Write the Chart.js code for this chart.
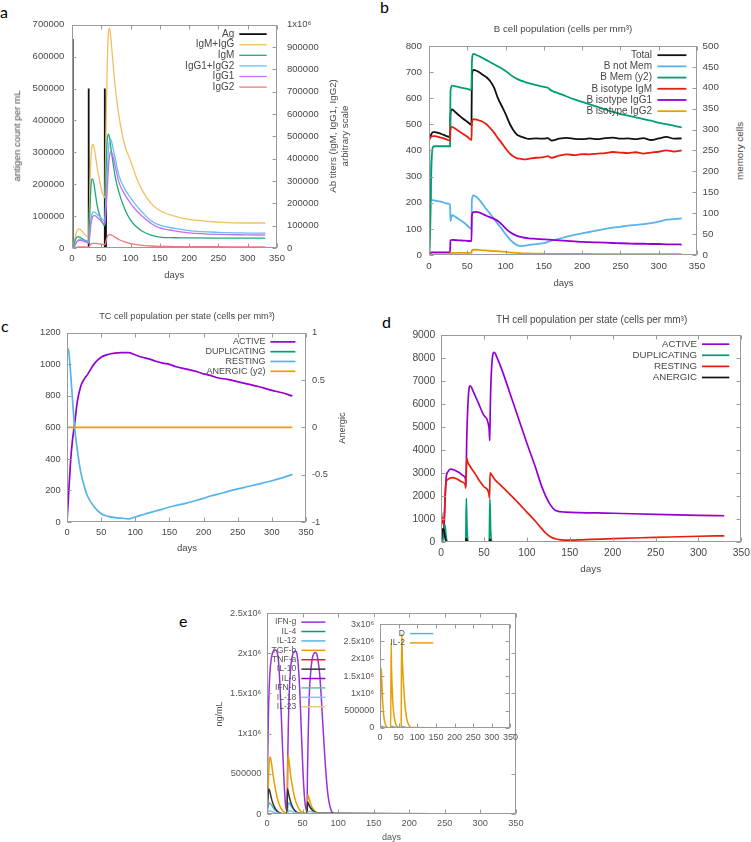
<!DOCTYPE html>
<html><head><meta charset="utf-8">
<script src="https://cdn.jsdelivr.net/npm/chart.js@4.4.1/dist/chart.umd.min.js"></script>
<style>
html,body{margin:0;padding:0;background:#fff;}
body{width:751px;height:842px;position:relative;overflow:hidden;font-family:"Liberation Sans",Arial,sans-serif;}
canvas{position:absolute;}
.t{position:absolute;color:#474747;white-space:nowrap;line-height:1;transform:translate(-50%,-50%);z-index:5;}
.r{transform:translate(-50%,-50%) rotate(-90deg);text-align:center;}
.p{position:absolute;font-family:Lato,"Open Sans",sans-serif;font-size:16px;line-height:1;color:#000;z-index:5;}
</style></head><body>
<div class="p" style="left:0px;top:4px">a</div>
<div class="p" style="left:380px;top:-1px">b</div>
<div class="p" style="left:1px;top:318px">c</div>
<div class="p" style="left:382px;top:314px">d</div>
<div class="p" style="left:179px;top:613px">e</div>

<div class="t r" style="left:16.5px;top:136px;font-size:9.7px">antigen count per mL</div>
<div class="t r" style="left:339px;top:136px;font-size:9.7px;line-height:12px">Ab titers (IgM, IgG1, IgG2)<br>arbitrary scale</div>
<div class="t" style="left:174.3px;top:275px;font-size:9.5px">days</div>

<div class="t" style="left:563px;top:29px;font-size:9.7px">B cell population (cells per mm³)</div>
<div class="t r" style="left:740px;top:151px;font-size:9.9px">memory cells</div>
<div class="t" style="left:563.5px;top:283px;font-size:9.5px">days</div>

<div class="t" style="left:187px;top:316.7px;font-size:9.2px">TC cell population per state (cells per mm³)</div>
<div class="t r" style="left:343.3px;top:427.5px;font-size:9.3px">Anergic</div>
<div class="t" style="left:187px;top:547.7px;font-size:9.5px">days</div>

<div class="t" style="left:591.7px;top:320px;font-size:10px">TH cell population per state (cells per mm³)</div>
<div class="t" style="left:590.7px;top:569px;font-size:9.8px">days</div>

<div class="t r" style="left:219px;top:714px;font-size:9px;color:#555">ng/mL</div>
<div class="t" style="left:391.6px;top:836.5px;font-size:9px;color:#555">days</div>

<script>
// ===================== DATA =====================
// ---- Panel a: antigen and antibody titers ----
const aAgDays = [0, 1.2, 27.5, 28, 29, 55.5, 56, 57, 58, 330];
const aAg     = [655000, 0, 0, 500000, 0, 0, 500000, 150000, 0, 0];
const aDays   = [0, 2, 4, 7, 10, 13, 17, 21, 25, 27.9, 28.5, 30, 32, 34, 36, 39, 43, 48, 52, 55.9, 56.5, 58, 60, 62, 64, 66, 69, 73, 80, 90, 100, 110, 120, 135, 150, 175, 200, 250, 300, 330];
const aIgMIgG = [0, 5000, 30000, 65000, 82000, 85000, 75000, 62000, 52000, 48000, 60000, 200000, 380000, 455000, 465000, 430000, 360000, 290000, 245000, 225000, 260000, 520000, 800000, 960000, 985000, 950000, 860000, 740000, 595000, 460000, 390000, 315000, 258000, 200000, 168000, 143000, 128000, 116000, 112000, 112000];
const aIgM    = [0, 3000, 20000, 45000, 51000, 49000, 42000, 36000, 31000, 29000, 35000, 120000, 260000, 310000, 305000, 260000, 190000, 140000, 112000, 100000, 120000, 330000, 480000, 510000, 495000, 455000, 400000, 330000, 250000, 175000, 125000, 95000, 75000, 58000, 49000, 46000, 45000, 44000, 44000, 44000];
const aIgG12  = [0, 0, 8000, 25000, 34000, 38000, 36000, 32000, 28000, 25000, 27000, 60000, 120000, 150000, 162000, 160000, 150000, 138000, 128000, 120000, 140000, 220000, 330000, 430000, 480000, 488000, 460000, 410000, 325000, 265000, 225000, 190000, 160000, 122000, 102000, 88000, 78000, 70000, 67000, 66000];
const aIgG1   = [0, 0, 6000, 22000, 31000, 34000, 33000, 29000, 25000, 22000, 23000, 45000, 100000, 130000, 143000, 145000, 137000, 125000, 115000, 108000, 118000, 170000, 250000, 350000, 410000, 432000, 420000, 375000, 295000, 240000, 200000, 168000, 142000, 110000, 90000, 77000, 68000, 61000, 59000, 58000];
const aIgG2   = [0, 0, 1000, 3000, 4500, 5000, 5000, 4500, 4000, 3500, 4000, 10000, 17000, 20000, 21000, 21000, 20000, 18000, 16000, 15000, 16000, 30000, 48000, 57000, 60000, 60000, 56000, 49000, 38000, 27000, 20000, 15000, 12000, 9000, 7500, 6500, 6000, 5500, 5000, 5000];

// ---- Panel b: B cell population ----
const bDays    = [0, 1, 2, 3, 5, 8, 12, 17, 22, 27.5, 28, 30, 35, 40, 45, 50, 55.5, 56, 58, 62, 66, 70, 75, 80, 85, 90, 95, 100, 105, 110, 115, 120, 125, 130, 140, 150, 155, 160, 170, 180, 190, 200, 210, 220, 230, 240, 250, 260, 270, 280, 290, 300, 310, 320, 330];
const bTotal   = [445, 448, 455, 462, 470, 470, 467, 462, 456, 452, 540, 557, 545, 532, 520, 510, 498, 680, 708, 705, 698, 690, 680, 665, 640, 600, 570, 540, 505, 478, 460, 453, 448, 444, 446, 445, 447, 438, 445, 448, 444, 443, 446, 443, 447, 449, 445, 446, 443, 447, 440, 446, 452, 445, 446];
const bNotMem  = [440, 350, 250, 212, 210, 208, 206, 203, 198, 193, 130, 152, 145, 135, 125, 113, 100, 210, 228, 222, 210, 195, 175, 157, 138, 118, 100, 80, 62, 48, 38, 34, 36, 38, 42, 45, 50, 55, 62, 70, 77, 83, 88, 94, 100, 105, 108, 112, 115, 118, 122, 128, 135, 137, 140];
const bMem     = [0, 20, 100, 200, 258, 260, 260, 260, 260, 260, 390, 405, 403, 401, 399, 397, 395, 460, 481, 478, 475, 471, 466, 461, 456, 451, 446, 440, 433, 426, 421, 417, 414, 411, 406, 402, 400, 393, 386, 379, 372, 366, 360, 354, 348, 342, 337, 333, 329, 325, 321, 316, 313, 309, 305];
const bIgM     = [440, 445, 450, 452, 455, 455, 452, 448, 443, 438, 480, 490, 482, 472, 462, 452, 440, 505, 520, 518, 514, 510, 500, 485, 468, 447, 428, 408, 390, 378, 370, 368, 366, 368, 372, 374, 378, 372, 380, 385, 382, 386, 385, 388, 390, 394, 392, 390, 393, 388, 392, 395, 400, 396, 400];
const bIgG1    = [0, 0, 5, 10, 10, 10, 10, 10, 10, 10, 55, 58, 57, 56, 55, 54, 53, 150, 164, 165, 162, 157, 150, 144, 138, 130, 117, 102, 89, 80, 73, 69, 66, 64, 62, 60, 59, 58, 56, 54, 52, 50, 49, 48, 47, 46, 45, 44, 43, 43, 42, 42, 41, 41, 40];
const bIgG2    = [0, 0, 1, 3, 3, 3, 3, 3, 3, 3, 7, 8, 8, 8, 8, 8, 8, 18, 20, 20, 19, 18, 17, 16, 15, 14, 13, 12, 10, 9, 8, 7, 6, 6, 5, 5, 4, 4, 4, 4, 4, 4, 4, 3, 3, 3, 3, 3, 3, 3, 3, 3, 3, 3, 3];

// ---- Panel c: TC cell population ----
const cDays     = [0, 2, 5, 8, 11, 15, 20, 25, 30, 40, 50, 60, 70, 80, 90, 100, 110, 120, 130, 140, 150, 160, 175, 190, 200, 210, 220, 235, 250, 265, 280, 300, 315, 330];
const cActive   = [0, 150, 370, 520, 615, 760, 860, 905, 935, 1005, 1045, 1063, 1072, 1075, 1075, 1060, 1045, 1035, 1020, 1008, 1000, 985, 970, 955, 940, 930, 915, 905, 890, 875, 860, 835, 820, 800];
const cResting  = [1100, 1095, 960, 780, 605, 460, 320, 230, 165, 95, 52, 36, 28, 24, 20, 32, 45, 58, 70, 82, 95, 105, 120, 138, 150, 165, 175, 193, 210, 225, 240, 262, 280, 302];
const cDupDays  = [0, 330];
const cDup      = [0, 0];
const cAnDays   = [0, 330];
const cAnergic  = [0, 0];

// ---- Panel d: TH cell population ----
const dActDays  = [0, 2, 3.5, 5, 6, 8, 11, 16, 21, 26, 28.5, 29, 30, 32, 34, 38, 44, 50, 56, 56.8, 57.5, 59, 62, 66, 71, 80, 90, 100, 110, 118, 126, 134, 145, 200, 250, 300, 330];
const dActive   = [0, 300, 700, 2000, 2800, 3050, 3170, 3120, 3020, 2880, 2750, 2400, 4500, 6400, 6790, 6500, 6000, 5500, 4950, 4400, 6000, 7600, 8240, 7950, 7480, 6500, 5400, 4300, 3250, 2350, 1700, 1360, 1300, 1250, 1200, 1160, 1140];
const dDupDays  = [0, 2, 3, 4, 4.7, 5.5, 6.5, 8, 28.8, 29.5, 30.3, 31, 32, 56.2, 57, 57.8, 58.5, 59.5, 330];
const dDup      = [0, 50, 300, 600, 730, 400, 100, 0, 0, 1900, 600, 150, 0, 0, 1870, 550, 130, 0, 0];
const dRestDays = [0, 1, 2, 3, 4, 5, 6, 8, 13, 18, 24, 28.3, 28.8, 30, 31, 34, 40, 45, 50, 55.7, 56.5, 57.2, 58.5, 63, 70, 80, 90, 100, 110, 115, 122, 128, 134, 140, 150, 175, 200, 250, 300, 330];
const dResting  = [1400, 1100, 850, 780, 1200, 2200, 2600, 2720, 2800, 2750, 2620, 2480, 2340, 3650, 3500, 3280, 2950, 2650, 2400, 2130, 1910, 3000, 2950, 2700, 2450, 2080, 1700, 1300, 900, 680, 390, 220, 130, 90, 80, 110, 150, 200, 250, 270];
const dAnDays   = [0, 0.5, 1.5, 2.5, 3.5, 4.5, 5.5, 7, 28.8, 29.4, 30.5, 32, 56.5, 57, 58, 59.5, 330];
const dAnergic  = [0, 200, 500, 570, 500, 250, 80, 0, 0, 160, 40, 0, 0, 130, 30, 0, 0];

// ---- Panel e: cytokines ----
const eIfngDays = [0, 1, 2, 3, 4, 6, 8, 10, 12, 14, 16, 18, 20, 22, 24, 26, 27.9, 28.2, 29, 30, 31, 32, 34, 36, 38, 40, 42, 44, 46, 48, 50, 52, 54, 55.9, 56.2, 57, 58, 59, 60, 62, 64, 66, 68, 70, 72, 74, 76, 78, 80, 83, 86, 90, 95, 330];
const eIfng     = [0, 700000, 1250000, 1550000, 1750000, 1930000, 2010000, 2040000, 2040000, 2020000, 1920000, 1650000, 1250000, 800000, 400000, 120000, 30000, 20000, 600000, 1100000, 1450000, 1650000, 1880000, 1980000, 2020000, 2030000, 2000000, 1850000, 1550000, 1100000, 650000, 300000, 100000, 30000, 20000, 550000, 1000000, 1350000, 1580000, 1820000, 1950000, 2000000, 2010000, 1990000, 1900000, 1750000, 1500000, 1200000, 900000, 500000, 220000, 50000, 0, 0];
const eFlatDays = [0, 330];
const eIl4      = [0, 0];
const eIl12Days = [0, 1, 3.5, 6, 9, 12, 16, 20, 27.9, 28.2, 30, 33, 36, 40, 45, 55.9, 56.2, 57.5, 60, 64, 68, 72, 330];
const eIl12     = [0, 60000, 140000, 115000, 75000, 45000, 20000, 5000, 0, 0, 140000, 110000, 70000, 35000, 10000, 0, 0, 130000, 95000, 50000, 20000, 5000, 0];
const eTgfDays  = [0, 1, 2, 3, 4.5, 6, 8, 10, 12, 15, 18, 22, 27.9, 28.3, 28.8, 29.5, 31, 33, 35, 37, 40, 44, 48, 55.9, 56.3, 56.8, 57.5, 59, 61, 63, 66, 70, 75, 330];
const eTgf      = [0, 150000, 400000, 620000, 710000, 650000, 520000, 400000, 300000, 180000, 100000, 40000, 10000, 10000, 300000, 740000, 660000, 500000, 380000, 280000, 170000, 80000, 30000, 10000, 10000, 120000, 240000, 200000, 140000, 90000, 50000, 20000, 5000, 0];
const eTnfa     = [0, 0];
const eIl10Days = [0, 1, 2.5, 4, 6, 8, 10, 13, 16, 20, 27.9, 28.2, 28.8, 30, 32, 34, 37, 40, 45, 55.9, 56.2, 57, 58, 60, 63, 66, 70, 330];
const eIl10     = [0, 150000, 315000, 280000, 200000, 140000, 95000, 50000, 25000, 8000, 2000, 2000, 315000, 270000, 190000, 130000, 70000, 35000, 10000, 2000, 2000, 150000, 135000, 95000, 55000, 30000, 10000, 0];
const eIl6      = [0, 0];
const eIfnb     = [0, 0];
const eIl18Days = [0, 3, 10, 20, 28, 31, 38, 48, 56, 59, 66, 76, 330];
const eIl18     = [0, 40000, 20000, 3000, 0, 40000, 20000, 3000, 0, 35000, 15000, 2000, 0];
const eIl23     = [0, 0];
// inset
const iIl2Days  = [0, 1.5, 3.5, 5, 7, 9, 11, 14, 17, 21, 28.3, 28.8, 29.8, 31, 33, 35, 38, 42, 46, 56.3, 56.8, 57.5, 58.5, 60, 62, 65, 68, 72, 78, 85, 330];
const iIl2      = [0, 900000, 1720000, 1300000, 800000, 480000, 280000, 120000, 50000, 10000, 0, 0, 2450000, 1700000, 1050000, 650000, 330000, 130000, 40000, 0, 0, 1500000, 2720000, 2000000, 1500000, 950000, 550000, 250000, 70000, 15000, 0];
const iDDays    = [0, 3, 10, 20, 28, 31, 38, 48, 56, 59, 66, 76, 330];
const iD        = [0, 50000, 30000, 5000, 0, 50000, 30000, 5000, 0, 45000, 25000, 5000, 0];

// x-axis tick labels
const dayTicks = [0, 50, 100, 150, 200, 250, 300, 350];

// ===================== HELPERS =====================
const FF = '"Liberation Sans", Arial, sans-serif';
const TC = '#474747';
const SUP6 = '\u2076';

function pts(d, v) { return d.map((x, i) => ({ x: x, y: v[i] })); }
function ln(label, color, days, vals, w, extra) {
  return Object.assign({
    label: label, borderColor: color, backgroundColor: color,
    data: pts(days, vals), borderWidth: w, pointRadius: 0, pointHoverRadius: 0,
    fill: false, cubicInterpolationMode: 'monotone'
  }, extra || {});
}
function orderGp(ds) { ds.forEach((d, i) => d.order = -i); return ds; }

function xAxis(fs, pad, color) {
  return {
    type: 'linear', min: dayTicks[0], max: dayTicks[dayTicks.length - 1],
    afterBuildTicks: s => { s.ticks = dayTicks.map(v => ({ value: v })); },
    ticks: { autoSkip: false, maxRotation: 0, minRotation: 0, padding: pad, color: color || TC,
      font: { size: fs, family: FF }, callback: v => String(v) },
    grid: { display: false, drawTicks: false }, border: { display: false },
    afterFit: s => { s.height = 24; }
  };
}
function yAxis(pos, min, max, step, fs, pad, width, cb, color) {
  return {
    type: 'linear', position: pos, min: min, max: max,
    ticks: { stepSize: step, autoSkip: false, padding: pad, color: color || TC,
      font: { size: fs, family: FF }, callback: cb || (v => String(v)) },
    grid: { display: false, drawTicks: false }, border: { display: false },
    afterFit: s => { s.width = width; }
  };
}
function gp(lg) {
  return {
    id: 'gp',
    afterDatasetsDraw(chart) {
      const ctx = chart.ctx, ca = chart.chartArea, sc = chart.scales;
      ctx.save();
      ctx.strokeStyle = '#9a9a9a'; ctx.lineWidth = 1;
      const L0 = Math.round(ca.left) + 0.5, T0 = Math.round(ca.top) + 0.5;
      const R0 = Math.round(ca.right) - 0.5, B0 = Math.round(ca.bottom) - 0.5;
      ctx.strokeRect(L0, T0, R0 - L0, B0 - T0);
      const K = 4;
      ctx.beginPath();
      sc.x.ticks.forEach(t => {
        const p = Math.round(sc.x.getPixelForValue(t.value)) + 0.5;
        ctx.moveTo(p, B0); ctx.lineTo(p, B0 - K); ctx.moveTo(p, T0); ctx.lineTo(p, T0 + K);
      });
      const y2 = sc.y2;
      sc.y.ticks.forEach(t => {
        const p = Math.round(sc.y.getPixelForValue(t.value)) + 0.5;
        ctx.moveTo(L0, p); ctx.lineTo(L0 + K, p);
        if (!y2) { ctx.moveTo(R0, p); ctx.lineTo(R0 - K, p); }
      });
      if (y2) y2.ticks.forEach(t => {
        const p = Math.round(y2.getPixelForValue(t.value)) + 0.5;
        ctx.moveTo(R0, p); ctx.lineTo(R0 - K, p);
      });
      ctx.stroke();
      if (lg) {
        ctx.font = lg.size + 'px ' + FF;
        ctx.textAlign = 'right'; ctx.textBaseline = 'middle';
        chart.data.datasets.forEach((ds, i) => {
          const y = ca.top + lg.y + i * lg.dy, x = ca.left + lg.x;
          ctx.fillStyle = lg.color || TC;
          ctx.fillText(ds.label, x, y);
          ctx.strokeStyle = ds.borderColor; ctx.lineWidth = ds.borderWidth;
          ctx.beginPath(); ctx.moveTo(x + lg.l1, y); ctx.lineTo(x + lg.l2, y); ctx.stroke();
        });
      }
      ctx.restore();
    }
  };
}
function cfgOf(datasets, scales, lg) {
  return {
    type: 'line',
    data: { datasets: orderGp(datasets) },
    options: {
      responsive: false, maintainAspectRatio: false, animation: false, events: [],
      parsing: true, layout: { padding: 0 },
      plugins: { legend: { display: false }, tooltip: { enabled: false } },
      scales: scales
    },
    plugins: [gp(lg)]
  };
}
function setSize(cv, w, h) { cv.width = w; cv.height = h; cv.style.width = w + 'px'; cv.style.height = h + 'px'; }
function place(rect, factory) {
  const cv = document.createElement('canvas');
  document.body.appendChild(cv);
  const pw = rect.r - rect.l, ph = rect.b - rect.t;
  const w0 = Math.round(pw + 130), h0 = Math.round(ph + 40);
  setSize(cv, w0, h0);
  let ch = new Chart(cv, factory());
  let ca = ch.chartArea;
  const w1 = Math.round(w0 + pw - (ca.right - ca.left));
  const h1 = Math.round(h0 + ph - (ca.bottom - ca.top));
  ch.destroy();
  setSize(cv, w1, h1);
  ch = new Chart(cv, factory());
  ca = ch.chartArea;
  cv.style.left = (rect.l - ca.left) + 'px';
  cv.style.top = (rect.t - ca.top) + 'px';
  return ch;
}

// ===================== CHARTS =====================
// Panel a
place({ l: 72, t: 24.3, r: 276.7, b: 247.3 }, () => cfgOf([
  ln('Ag', '#111111', aAgDays, aAg, 1.8, { yAxisID: 'y', cubicInterpolationMode: 'default', tension: 0 }),
  ln('IgM+IgG', '#f0c060', aDays, aIgMIgG, 1.3, { yAxisID: 'y2' }),
  ln('IgM', '#20a878', aDays, aIgM, 1.3, { yAxisID: 'y2' }),
  ln('IgG1+IgG2', '#66c0f0', aDays, aIgG12, 1.3, { yAxisID: 'y2' }),
  ln('IgG1', '#c070f0', aDays, aIgG1, 1.3, { yAxisID: 'y2' }),
  ln('IgG2', '#f07878', aDays, aIgG2, 1.3, { yAxisID: 'y2' })
], {
  x: xAxis(9.5, 5),
  y: yAxis('left', 0, 700000, 100000, 9.5, 7.7, 60),
  y2: yAxis('right', 0, 1000000, 100000, 9.5, 10, 62, v => v === 1000000 ? '1x10' + SUP6 : String(v))
}, { x: 162.3, y: 9.4, dy: 10.6, l1: 5, l2: 32.4, size: 10 }));

// Panel b
place({ l: 429.3, t: 45.7, r: 697.7, b: 255 }, () => cfgOf([
  ln('Total', '#111111', bDays, bTotal, 1.8, { yAxisID: 'y' }),
  ln('B not Mem', '#56b4e9', bDays, bNotMem, 1.8, { yAxisID: 'y' }),
  ln('B Mem (y2)', '#009e73', bDays, bMem, 1.8, { yAxisID: 'y2' }),
  ln('B isotype IgM', '#e51e10', bDays, bIgM, 1.8, { yAxisID: 'y' }),
  ln('B isotype IgG1', '#9400d3', bDays, bIgG1, 1.8, { yAxisID: 'y' }),
  ln('B isotype IgG2', '#e69f00', bDays, bIgG2, 1.8, { yAxisID: 'y' })
], {
  x: xAxis(9.8, 5.5),
  y: yAxis('left', 0, 800, 100, 9.8, 7, 50),
  y2: yAxis('right', 0, 500, 50, 9.8, 5.6, 35)
}, { x: 223, y: 9.3, dy: 11.2, l1: 5.4, l2: 34.4, size: 10 }));

// Panel c
place({ l: 67.3, t: 332.7, r: 306.7, b: 522.3 }, () => cfgOf([
  ln('ACTIVE', '#9400d3', cDays, cActive, 1.7, { yAxisID: 'y' }),
  ln('DUPLICATING', '#009e73', cDupDays, cDup, 1.7, { yAxisID: 'y' }),
  ln('RESTING', '#56b4e9', cDays, cResting, 1.7, { yAxisID: 'y' }),
  ln('ANERGIC (y2)', '#e69f00', cAnDays, cAnergic, 1.7, { yAxisID: 'y2' })
], {
  x: xAxis(9.3, 4.5),
  y: yAxis('left', 0, 1200, 200, 9.3, 6.3, 50),
  y2: yAxis('right', -1, 1, 0.5, 9.3, 6, 40)
}, { x: 198.4, y: 9, dy: 9.8, l1: 5, l2: 30, size: 9 }));

// Panel d
place({ l: 440.7, t: 335, r: 740.7, b: 542.3 }, () => cfgOf([
  ln('ACTIVE', '#9400d3', dActDays, dActive, 1.7),
  ln('DUPLICATING', '#009e73', dDupDays, dDup, 1.7),
  ln('RESTING', '#e51e10', dRestDays, dResting, 1.7),
  ln('ANERGIC', '#111111', dAnDays, dAnergic, 1.7)
], {
  x: xAxis(10.3, 5),
  y: yAxis('left', 0, 9000, 1000, 10.3, 5.7, 50)
}, { x: 256, y: 9.3, dy: 11.1, l1: 5, l2: 32.3, size: 9.7 }));

// Panel e (main)
const eLab = v => v === 0 ? '0' : (v === 500000 ? '500000' : (v / 1000000) + 'x10' + SUP6);
place({ l: 267.3, t: 613.3, r: 516, b: 814.3 }, () => cfgOf([
  ln('IFN-g', '#9a30d8', eIfngDays, eIfng, 1.5),
  ln('IL-4', '#009e73', eFlatDays, eIl4, 1.5),
  ln('IL-12', '#56b4e9', eIl12Days, eIl12, 1.5),
  ln('TGF-b', '#e69f00', eTgfDays, eTgf, 1.5),
  ln('TNF-a', '#e51e10', eFlatDays, eTnfa, 1.5),
  ln('IL-10', '#333333', eIl10Days, eIl10, 1.5),
  ln('IL-6', '#9400d3', eFlatDays, eIl6, 1.5),
  ln('IFN-b', '#5cc0a0', eFlatDays, eIfnb, 1.5),
  ln('IL-18', '#80c8f0', eIl18Days, eIl18, 1.5),
  ln('IL-23', '#f0c878', eFlatDays, eIl23, 1.5)
], {
  x: xAxis(9.2, 3.5, '#555'),
  y: yAxis('left', 0, 2500000, 500000, 9.2, 5.6, 62, eLab, '#555')
}, { x: 29.4, y: 9, dy: 9.4, l1: 5, l2: 29, size: 8.6, color: '#555' }));

// Panel e (inset)
place({ l: 380, t: 624.5, r: 510, b: 728.5 }, () => cfgOf([
  ln('D', '#56b4e9', iDDays, iD, 1.5),
  ln('IL-2', '#e69f00', iIl2Days, iIl2, 1.5)
], {
  x: xAxis(9, 4, '#555'),
  y: yAxis('left', 0, 3000000, 500000, 9, 5.7, 50, eLab, '#555')
}, { x: 25, y: 9.5, dy: 9.3, l1: 5, l2: 28.3, size: 8.5, color: '#555' }));
</script>
</body></html>
